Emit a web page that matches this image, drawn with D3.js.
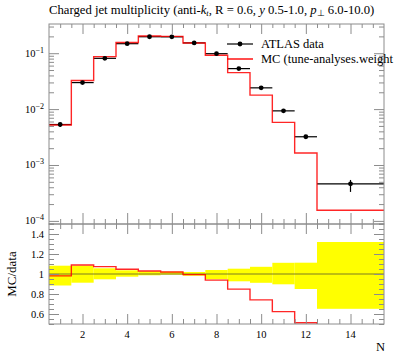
<!DOCTYPE html>
<html><head><meta charset="utf-8">
<script src="https://cdn.jsdelivr.net/npm/d3@7"></script>
<style>
body{margin:0;background:#fff;}
svg{display:block;font-family:"Liberation Serif",serif;}
</style></head>
<body><svg id="c" width="397" height="358"></svg>
<script>
// ---- data ----
const binEdges = [0.5,1.5,2.5,3.5,4.5,5.5,6.5,7.5,8.5,9.5,10.5,11.5,12.5,15.5];
const binCenters = [1,2,3,4,5,6,7,8,9,10,11,12,14];
const dataValues = [5.3e-3,0.0298,0.081,0.148,0.197,0.196,0.153,0.098,0.053,0.024,0.0093,0.0032,4.6e-4];
const dataErrLow = [4.8e-3,0.0290,0.0790,0.145,0.194,0.193,0.150,0.096,0.0515,0.0233,0.0089,0.0030,3.3e-4];
const dataErrHigh = [5.7e-3,0.0306,0.0830,0.151,0.200,0.199,0.156,0.100,0.0545,0.0247,0.0097,0.0034,5.4e-4];
const mcValues = [5.2e-3,0.0325,0.087,0.155,0.203,0.200,0.152,0.092,0.045,0.0178,0.0058,1.64e-3,1.55e-4];
const bandLow = [0.885,0.913,0.947,0.973,0.987,0.993,0.983,0.947,0.927,0.912,0.897,0.85,0.652];
const bandHigh = [1.083,1.083,1.057,1.037,1.027,1.023,1.02,1.04,1.053,1.072,1.112,1.113,1.32];
const mainYTicks = [1e-4,1e-3,1e-2,1e-1];
const mainYExp = ["−4","−3","−2","−1"];
const ratioYTicks = [0.6,0.8,1.0,1.2,1.4];
const ratioYLabels = ["0.6","0.8","1","1.2","1.4"];
const xTicks = [2,4,6,8,10,12,14];

// ---- layout ----
const L=49, R=384, T=24, MB=224, RB=324;
const svg = d3.select("#c");
const x = d3.scaleLinear([0.5,15.5],[L,R]);
const y = d3.scaleLog([8.8e-5,0.333],[MB,T]);
const yr = d3.scaleLinear([0.5,1.5],[RB,MB]);
const frameCol = "#8c8c8c";

// clips
const defs = svg.append("defs");
defs.append("clipPath").attr("id","cm").append("rect").attr("x",L).attr("y",T).attr("width",R-L).attr("height",MB-T);
defs.append("clipPath").attr("id","cr").append("rect").attr("x",L).attr("y",MB).attr("width",R-L).attr("height",RB-MB);

// title
const title = svg.append("text").attr("x",L).attr("y",14).attr("font-size",12.7).attr("fill","#000");
title.append("tspan").text("Charged jet multiplicity (anti-");
title.append("tspan").attr("font-style","italic").text("k");
title.append("tspan").attr("font-style","italic").attr("font-size",8.5).attr("dy",2).text("t");
title.append("tspan").attr("dy",-2).text(", R = 0.6, ");
title.append("tspan").attr("font-style","italic").text("y");
title.append("tspan").text(" 0.5-1.0, ");
title.append("tspan").attr("font-style","italic").text("p");
title.append("tspan").attr("font-size",8.5).attr("dy",2).text("⊥");
title.append("tspan").attr("dy",-2).text(" 6.0-10.0)");

// step path helper
function stepPts(vals, ys){
  const pts=[];
  vals.forEach((v,i)=>{ pts.push([x(binEdges[i]),ys(v)]); pts.push([x(binEdges[i+1]),ys(v)]); });
  return pts;
}
const line = d3.line();

// ---- main panel ----
const gm = svg.append("g").attr("clip-path","url(#cm)");
binCenters.forEach((c,i)=>{
  gm.append("line").attr("x1",x(binEdges[i])).attr("x2",x(binEdges[i+1]))
    .attr("y1",y(dataValues[i])).attr("y2",y(dataValues[i])).attr("stroke","#000").attr("stroke-width",1.2);
  gm.append("line").attr("x1",x(c)).attr("x2",x(c))
    .attr("y1",y(dataErrLow[i])).attr("y2",y(dataErrHigh[i])).attr("stroke","#000").attr("stroke-width",1.2);
});
gm.append("path").attr("d",line(stepPts(mcValues,y))).attr("fill","none")
  .attr("stroke","#ff0000").attr("stroke-width",1.4).attr("stroke-opacity",0.85);
gm.selectAll("circle.d").data(dataValues).join("circle")
  .attr("cx",(d,i)=>x(binCenters[i])).attr("cy",d=>y(d)).attr("r",2.4).attr("fill","#000");

// ---- ratio panel ----
const gr = svg.append("g").attr("clip-path","url(#cr)");
bandLow.forEach((lo,i)=>{
  gr.append("rect").attr("x",x(binEdges[i])).attr("width",x(binEdges[i+1])-x(binEdges[i]))
    .attr("y",yr(bandHigh[i])).attr("height",yr(lo)-yr(bandHigh[i])).attr("fill","#ffff00");
});
gr.append("line").attr("x1",L).attr("x2",R).attr("y1",yr(1)).attr("y2",yr(1))
  .attr("stroke","#5a5a2a").attr("stroke-width",1).attr("stroke-opacity",0.8);
const ratioVals = mcValues.map((m,i)=>m/dataValues[i]);
gr.append("path").attr("d",line(stepPts(ratioVals,yr))).attr("fill","none")
  .attr("stroke","#ff0000").attr("stroke-width",1.4).attr("stroke-opacity",0.85);

// ---- axes ----
function styleAxis(g){
  g.select(".domain").remove();
  g.selectAll(".tick line").attr("stroke",frameCol);
  g.selectAll(".tick text").remove();
}
const mainMinor=[];
for(let e=-5;e<=0;e++) for(let k=2;k<=9;k++){ const v=k*Math.pow(10,e); if(v>=8.8e-5 && v<=0.333) mainMinor.push(v); }
const xMinor=[]; for(let v=1;v<=15;v+=0.5){ if(v%2!==0) xMinor.push(v); }
const rMinor=[]; for(let i=0;i<=20;i++){ const v=+(0.5+0.05*i).toFixed(2); if(!ratioYTicks.some(t=>Math.abs(t-v)<1e-6)) rMinor.push(v); }

svg.append("g").attr("transform",`translate(${L},0)`).call(d3.axisLeft(y).tickValues(mainYTicks).tickSize(-10)).call(styleAxis);
svg.append("g").attr("transform",`translate(${L},0)`).call(d3.axisLeft(y).tickValues(mainMinor).tickSize(-5)).call(styleAxis);
svg.append("g").attr("transform",`translate(${R},0)`).call(d3.axisRight(y).tickValues(mainYTicks).tickSize(-10)).call(styleAxis);
svg.append("g").attr("transform",`translate(${R},0)`).call(d3.axisRight(y).tickValues(mainMinor).tickSize(-5)).call(styleAxis);
svg.append("g").attr("transform",`translate(0,${T})`).call(d3.axisTop(x).tickValues(xTicks).tickSize(-10)).call(styleAxis);
svg.append("g").attr("transform",`translate(0,${T})`).call(d3.axisTop(x).tickValues(xMinor).tickSize(-4)).call(styleAxis);
svg.append("g").attr("transform",`translate(0,${MB})`).call(d3.axisBottom(x).tickValues(xTicks).tickSize(-11)).call(styleAxis);
svg.append("g").attr("transform",`translate(0,${MB})`).call(d3.axisBottom(x).tickValues(xMinor).tickSize(-5)).call(styleAxis);
svg.append("g").attr("transform",`translate(${L},0)`).call(d3.axisLeft(yr).tickValues(ratioYTicks).tickSize(-10)).call(styleAxis);
svg.append("g").attr("transform",`translate(${L},0)`).call(d3.axisLeft(yr).tickValues(rMinor).tickSize(-5)).call(styleAxis);
svg.append("g").attr("transform",`translate(${R},0)`).call(d3.axisRight(yr).tickValues(ratioYTicks).tickSize(-10)).call(styleAxis);
svg.append("g").attr("transform",`translate(${R},0)`).call(d3.axisRight(yr).tickValues(rMinor).tickSize(-5)).call(styleAxis);
svg.append("g").attr("transform",`translate(0,${MB})`).call(d3.axisTop(x).tickValues(xTicks).tickSize(-10)).call(styleAxis);
svg.append("g").attr("transform",`translate(0,${MB})`).call(d3.axisTop(x).tickValues(xMinor).tickSize(-5)).call(styleAxis);
svg.append("g").attr("transform",`translate(0,${RB})`).call(d3.axisBottom(x).tickValues(xTicks).tickSize(-10)).call(styleAxis);
svg.append("g").attr("transform",`translate(0,${RB})`).call(d3.axisBottom(x).tickValues(xMinor).tickSize(-5)).call(styleAxis);

svg.append("rect").attr("x",L).attr("y",T).attr("width",R-L).attr("height",MB-T).attr("fill","none").attr("stroke",frameCol).attr("stroke-width",1);
svg.append("rect").attr("x",L).attr("y",MB).attr("width",R-L).attr("height",RB-MB).attr("fill","none").attr("stroke",frameCol).attr("stroke-width",1);

mainYTicks.forEach((v,i)=>{
  const t = svg.append("text").attr("x",44).attr("y",y(v)+3.5).attr("text-anchor","end").attr("font-size",10.5).attr("fill","#000");
  t.append("tspan").text("10");
  t.append("tspan").attr("font-size",8).attr("dy",-4).text(mainYExp[i]);
});
ratioYTicks.forEach((v,i)=>{
  svg.append("text").attr("x",44).attr("y",yr(v)+3.5).attr("text-anchor","end").attr("font-size",10.5).attr("fill","#000").text(ratioYLabels[i]);
});
xTicks.forEach(v=>{
  svg.append("text").attr("x",x(v)).attr("y",338).attr("text-anchor","middle").attr("font-size",10.5).attr("fill","#000").text(v);
});
svg.append("text").attr("x",385).attr("y",351).attr("text-anchor","end").attr("font-size",12.5).attr("fill","#000").text("N");
svg.append("text").attr("transform",`translate(16,${yr(1)}) rotate(-90)`).attr("text-anchor","middle").attr("font-size",13).attr("fill","#000").text("MC/data");

const lg = svg.append("g");
lg.append("line").attr("x1",227).attr("x2",253).attr("y1",44).attr("y2",44).attr("stroke","#000").attr("stroke-width",1.2);
lg.append("circle").attr("cx",240).attr("cy",44).attr("r",2.4).attr("fill","#000");
lg.append("text").attr("x",261).attr("y",48).attr("font-size",12.5).attr("fill","#000").text("ATLAS data");
lg.append("line").attr("x1",227).attr("x2",253).attr("y1",59).attr("y2",59).attr("stroke","#ff0000").attr("stroke-width",1.4);
lg.append("text").attr("x",261).attr("y",63).attr("font-size",12.5).attr("fill","#000").text("MC (tune-analyses.weight");
</script></body></html>
